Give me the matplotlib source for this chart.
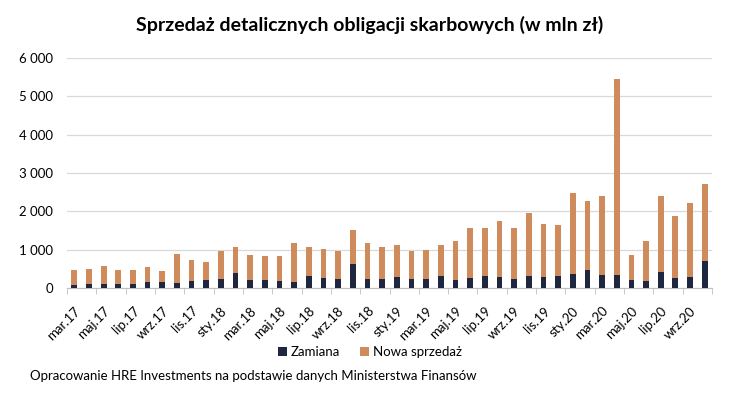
import numpy as np
import matplotlib.pyplot as plt
from matplotlib.ticker import FuncFormatter

plt.rcParams['font.family'] = ['Lato', 'DejaVu Sans']

months = ['mar.17', 'kwi.17', 'maj.17', 'cze.17', 'lip.17', 'sie.17', 'wrz.17', 'paź.17', 'lis.17', 'gru.17',
          'sty.18', 'lut.18', 'mar.18', 'kwi.18', 'maj.18', 'cze.18', 'lip.18', 'sie.18', 'wrz.18', 'paź.18',
          'lis.18', 'gru.18', 'sty.19', 'lut.19', 'mar.19', 'kwi.19', 'maj.19', 'cze.19', 'lip.19', 'sie.19',
          'wrz.19', 'paź.19', 'lis.19', 'gru.19', 'sty.20', 'lut.20', 'mar.20', 'kwi.20', 'maj.20', 'cze.20',
          'lip.20', 'sie.20', 'wrz.20', 'paź.20']

zamiana = [90, 113, 113, 113, 113, 165, 165, 139, 192, 218,
           244, 401, 218, 218, 192, 165, 322, 270, 244, 636,
           244, 244, 296, 244, 244, 322, 218, 270, 322, 296,
           244, 322, 296, 322, 374, 479, 348, 348, 218, 192,
           427, 270, 296, 714]

razem = [479, 505, 584, 479, 479, 557, 453, 897, 740, 688,
         976, 1080, 871, 845, 845, 1185, 1080, 1028, 976, 1524,
         1185, 1080, 1132, 976, 1002, 1132, 1237, 1577, 1577, 1760,
         1577, 1969, 1681, 1655, 2491, 2282, 2387, 5444, 871, 1237,
         2387, 1890, 2230, 2726]

nowa = [r - z for r, z in zip(razem, zamiana)]

dark = '#1F2740'
orange = '#D08B5C'

fig = plt.figure(figsize=(7.4, 3.96), dpi=100)
ax = fig.add_axes([67 / 740, 1 - 288 / 396, (712 - 67) / 740, (288 - 58) / 396])

x = np.arange(len(months))
ax.bar(x, zamiana, width=0.39, color=dark, label='Zamiana', zorder=3)
ax.bar(x, nowa, width=0.39, bottom=zamiana, color=orange, label='Nowa sprzedaż', zorder=3)

ax.set_ylim(0, 6000)
ax.set_xlim(-0.5, len(months) - 0.5)
ax.set_yticks(range(0, 6001, 1000))
ax.yaxis.set_major_formatter(FuncFormatter(lambda v, p: f'{int(v):,}'.replace(',', ' ')))
ax.grid(axis='y', color='#D9D9D9', linewidth=0.9, zorder=0)

ax.set_xticks(x[::2])
ax.set_xticklabels(months[::2], rotation=45, ha='right', rotation_mode='anchor', fontsize=9.5)
ax.set_xticks(np.arange(-0.5, len(months), 2), minor=True)
ax.tick_params(axis='x', which='major', length=0, pad=12)
ax.tick_params(axis='x', which='minor', length=4, color='#BFBFBF')
ax.tick_params(axis='y', length=0, labelsize=9.5, pad=10)

for s in ['top', 'right', 'left']:
    ax.spines[s].set_visible(False)
ax.spines['bottom'].set_color('#BFBFBF')

fig.text(0.5, 1 - 25 / 396, 'Sprzedaż detalicznych obligacji skarbowych (w mln zł)',
         ha='center', va='center', fontsize=14, fontweight='bold')

fig.legend(loc='center', bbox_to_anchor=(0.5, 1 - 352 / 396), ncol=2, frameon=False,
           fontsize=9.5, handlelength=0.7, handleheight=0.7, handletextpad=0.3, columnspacing=1.5)

fig.text(30 / 740, 1 - 376 / 396, 'Opracowanie HRE Investments na podstawie danych Ministerstwa Finansów',
         ha='left', va='center', fontsize=9.5)

fig.savefig('out.png', dpi=100)
